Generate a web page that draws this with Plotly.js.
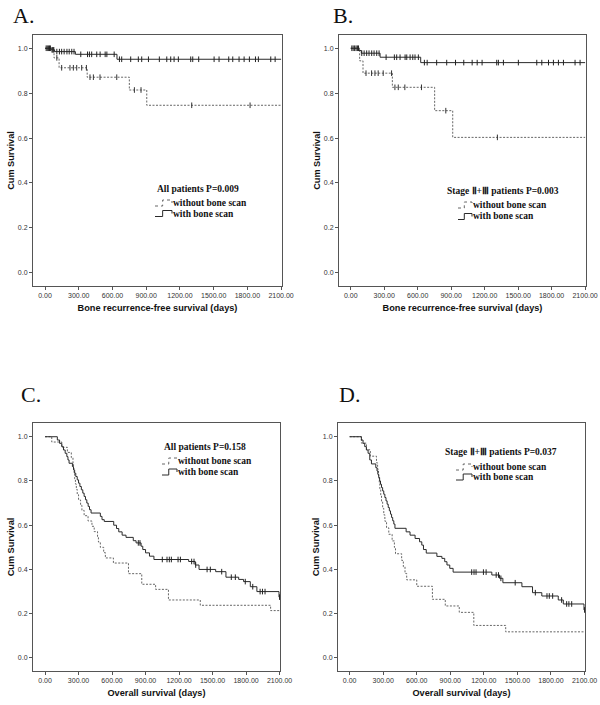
<!DOCTYPE html>
<html>
<head>
<meta charset="utf-8">
<script src="https://cdn.plot.ly/plotly-3.0.1.min.js"></script>
<style>html,body{margin:0;padding:0;background:#fff;}#chart{width:600px;height:705px;}</style>
</head>
<body>
<div id="chart"></div>
<script>
// ---------- axis ticks ----------
const xTickVals = [0, 300, 600, 900, 1200, 1500, 1800, 2100];
const xTickText = ["0.00", "300.00", "600.00", "900.00", "1200.00", "1500.00", "1800.00", "2100.00"];
const yTickVals = [0, 0.2, 0.4, 0.6, 0.8, 1.0];
const yTickText = ["0.0", "0.2", "0.4", "0.6", "0.8", "1.0"];
const groupLabels = ["without bone scan", "with bone scan"];
const panelLetters = ["A.", "B.", "C.", "D."];
const panelTitles = ["All patients P=0.009", "Stage Ⅱ+Ⅲ patients P=0.003", "All patients P=0.158", "Stage Ⅱ+Ⅲ patients P=0.037"];
const xTitles = ["Bone recurrence-free survival (days)", "Bone recurrence-free survival (days)", "Overall survival (days)", "Overall survival (days)"];
const yTitle = "Cum Survival";

// ---------- Panel A: bone recurrence-free, all patients ----------
const aWithT = [0, 55, 85, 270, 640];
const aWithS = [1, 0.993, 0.985, 0.973, 0.951];
const aWithCens = [10, 20, 30, 40, 48, 62, 70, 78, 105, 128, 148, 170, 195, 215, 238, 258, 318, 378, 395, 415, 460, 490, 535, 550, 615, 662, 682, 762, 830, 860, 920, 1017, 1083, 1118, 1148, 1186, 1296, 1314, 1367, 1504, 1548, 1634, 1670, 1726, 1771, 1818, 1872, 1898, 2008, 2047];
const aWithoutT = [0, 80, 125, 375, 750, 905];
const aWithoutS = [1, 0.957, 0.913, 0.871, 0.814, 0.746];
const aWithoutCens = [105, 148, 222, 252, 282, 326, 368, 400, 430, 489, 638, 795, 854, 1305, 1824];

// ---------- Panel B: bone recurrence-free, stage II+III ----------
const bWithT = [0, 75, 95, 263, 627];
const bWithS = [1, 0.99, 0.978, 0.96, 0.936];
const bWithCens = [10, 22, 35, 48, 60, 70, 99, 120, 143, 164, 188, 209, 233, 254, 317, 391, 412, 442, 487, 502, 532, 556, 576, 606, 660, 685, 770, 860, 939, 1013, 1088, 1133, 1177, 1308, 1323, 1368, 1502, 1667, 1712, 1772, 1816, 1861, 1906, 2010, 2055];
const bWithoutT = [0, 80, 110, 373, 752, 914];
const bWithoutS = [1, 0.944, 0.889, 0.826, 0.722, 0.603];
const bWithoutCens = [137, 187, 217, 246, 291, 366, 396, 426, 485, 634, 852, 1314];

// ---------- Panel C: overall survival, all patients ----------
const cWithT = [0, 110, 130, 150, 165, 180, 195, 205, 215, 245, 255, 265, 275, 288, 300, 312, 325, 338, 350, 362, 374, 386, 398, 412, 495, 510, 530, 615, 640, 660, 690, 725, 790, 815, 860, 875, 900, 935, 975, 1286, 1345, 1379, 1528, 1620, 1734, 1778, 1838, 1897, 2095];
const cWithS = [1, 0.985, 0.97, 0.955, 0.94, 0.925, 0.91, 0.895, 0.88, 0.865, 0.85, 0.835, 0.82, 0.805, 0.79, 0.775, 0.76, 0.745, 0.73, 0.715, 0.70, 0.685, 0.67, 0.655, 0.64, 0.625, 0.617, 0.60, 0.585, 0.57, 0.555, 0.545, 0.53, 0.52, 0.505, 0.49, 0.475, 0.46, 0.445, 0.436, 0.42, 0.40, 0.39, 0.365, 0.355, 0.345, 0.322, 0.30, 0.275];
const cWithCens = [835, 850, 1050, 1092, 1113, 1131, 1191, 1212, 1313, 1334, 1349, 1451, 1480, 1582, 1668, 1704, 1793, 1860, 1926, 1947, 1970, 2100];
const cWithoutT = [0, 60, 150, 200, 235, 250, 255, 260, 265, 272, 280, 288, 300, 318, 330, 350, 385, 420, 440, 470, 478, 495, 525, 540, 612, 747, 866, 990, 1105, 1390, 2020];
const cWithoutS = [1, 0.976, 0.952, 0.929, 0.905, 0.881, 0.857, 0.833, 0.81, 0.786, 0.762, 0.738, 0.714, 0.69, 0.667, 0.643, 0.619, 0.595, 0.571, 0.548, 0.524, 0.50, 0.476, 0.452, 0.429, 0.381, 0.333, 0.31, 0.262, 0.238, 0.214];
const cWithoutCens = [];

// ---------- Panel D: overall survival, stage II+III ----------
const dWithT = [0, 105, 120, 135, 150, 165, 180, 195, 234, 245, 252, 260, 268, 276, 285, 295, 305, 315, 325, 335, 345, 355, 365, 375, 385, 395, 405, 505, 540, 585, 625, 645, 660, 685, 780, 825, 850, 870, 895, 925, 1271, 1340, 1370, 1540, 1635, 1718, 1865, 1910, 2095];
const dWithS = [1, 0.985, 0.97, 0.955, 0.94, 0.925, 0.895, 0.877, 0.86, 0.845, 0.83, 0.815, 0.80, 0.785, 0.77, 0.755, 0.74, 0.725, 0.71, 0.695, 0.68, 0.665, 0.65, 0.635, 0.62, 0.605, 0.586, 0.57, 0.555, 0.54, 0.525, 0.51, 0.49, 0.474, 0.459, 0.45, 0.435, 0.42, 0.405, 0.388, 0.375, 0.36, 0.34, 0.322, 0.295, 0.28, 0.262, 0.244, 0.217];
const dWithCens = [1091, 1112, 1130, 1196, 1220, 1310, 1331, 1352, 1480, 1660, 1764, 1785, 1815, 1895, 1940, 1960, 1985, 2100];
const dWithoutT = [0, 105, 150, 185, 240, 250, 258, 265, 270, 278, 285, 295, 305, 315, 330, 350, 380, 400, 410, 465, 480, 495, 510, 600, 740, 855, 980, 1110, 1395];
const dWithoutS = [1, 0.971, 0.941, 0.912, 0.882, 0.853, 0.824, 0.794, 0.765, 0.735, 0.706, 0.676, 0.647, 0.618, 0.588, 0.559, 0.529, 0.50, 0.471, 0.441, 0.412, 0.382, 0.353, 0.324, 0.265, 0.235, 0.206, 0.147, 0.118];
const dWithoutCens = [];

const X_END = 2100;

// ---------- layout geometry (pixels) ----------
const W = 600, H = 705;
const frames = [
  {l: 33, r: 282, t: 35, b: 286, xr: [-107, 2108], yr: [-0.059, 1.059]},
  {l: 339, r: 586, t: 35, b: 286, xr: [-105, 2108], yr: [-0.059, 1.059]},
  {l: 33, r: 280, t: 423, b: 671, xr: [-108, 2104], yr: [-0.059, 1.062]},
  {l: 338, r: 585, t: 423, b: 671, xr: [-104, 2104], yr: [-0.059, 1.062]}
];
const px = x => x / W;
const py = y => 1 - y / H;

const panels = [
  {wT: aWithT, wS: aWithS, wC: aWithCens, oT: aWithoutT, oS: aWithoutS, oC: aWithoutCens},
  {wT: bWithT, wS: bWithS, wC: bWithCens, oT: bWithoutT, oS: bWithoutS, oC: bWithoutCens},
  {wT: cWithT, wS: cWithS, wC: cWithCens, oT: cWithoutT, oS: cWithoutS, oC: cWithoutCens},
  {wT: dWithT, wS: dWithS, wC: dWithCens, oT: dWithoutT, oS: dWithoutS, oC: dWithoutCens}
];

function stepAt(T, S, t) {
  let v = S[0];
  for (let i = 0; i < T.length; i++) { if (T[i] <= t) v = S[i]; }
  return v;
}

const solidColor = '#2a2a2a';
const dashColor = '#666666';
const traces = [];
const layout = {
  width: W, height: H,
  margin: {l: 0, r: 0, t: 0, b: 0},
  paper_bgcolor: '#fff', plot_bgcolor: '#fff',
  showlegend: false,
  annotations: [], shapes: []
};

const sansTick = {family: 'Liberation Sans, Arial, sans-serif', size: 7, color: '#333'};
const sansTitle = {family: 'Liberation Sans, Arial, sans-serif', size: 9.2, color: '#111', weight: 'bold'};
const serifLeg = {family: 'Liberation Serif, Times New Roman, serif', size: 9.5, color: '#111', weight: 'bold'};

const legendPos = [
  {tx: 198, ty: 189, y1: 203, y2: 213.5, sx0: 155, sx1: 172},
  {tx: 503, ty: 191, y1: 205, y2: 216.5, sx0: 458, sx1: 472},
  {tx: 205, ty: 447, y1: 461, y2: 472, sx0: 162, sx1: 177},
  {tx: 501, ty: 452, y1: 467, y2: 477, sx0: 456, sx1: 472}
];
const letterPos = [
  {x: 11, y: 15}, {x: 331, y: 15}, {x: 19, y: 394}, {x: 337, y: 394}
];

panels.forEach((p, i) => {
  const n = i + 1;
  const xa = 'x' + (n === 1 ? '' : n), ya = 'y' + (n === 1 ? '' : n);
  const f = frames[i];
  const axX = {
    domain: [px(f.l), px(f.r)], anchor: ya, range: f.xr,
    tickvals: xTickVals, ticktext: xTickText,
    ticks: 'outside', ticklen: 3, tickcolor: '#555', tickwidth: 1,
    showline: true, mirror: true, linecolor: '#555', linewidth: 1,
    showgrid: false, zeroline: false, tickfont: sansTick,
    title: {text: xTitles[i], font: sansTitle, standoff: 6}
  };
  const axY = {
    domain: [py(f.b), py(f.t)], anchor: xa, range: f.yr,
    tickvals: yTickVals, ticktext: yTickText,
    ticks: 'outside', ticklen: 3, tickcolor: '#555', tickwidth: 1,
    showline: true, mirror: true, linecolor: '#555', linewidth: 1,
    showgrid: false, zeroline: false, tickfont: sansTick,
    title: {text: yTitle, font: sansTitle, standoff: 1}
  };
  layout['xaxis' + (n === 1 ? '' : n)] = axX;
  layout['yaxis' + (n === 1 ? '' : n)] = axY;

  traces.push({
    x: p.oT.concat([X_END]), y: p.oS.concat([p.oS[p.oS.length - 1]]),
    xaxis: xa, yaxis: ya, mode: 'lines', name: groupLabels[0],
    line: {shape: 'hv', color: dashColor, width: 1, dash: '2px,1.5px'}, hoverinfo: 'skip'
  });
  if (p.oC.length) {
    traces.push({
      x: p.oC, y: p.oC.map(t => stepAt(p.oT, p.oS, t)),
      xaxis: xa, yaxis: ya, mode: 'markers', name: groupLabels[0] + ' censored',
      marker: {symbol: 'line-ns', size: 4, line: {width: 1, color: '#333'}}, hoverinfo: 'skip'
    });
  }
  traces.push({
    x: p.wT.concat([X_END]), y: p.wS.concat([p.wS[p.wS.length - 1]]),
    xaxis: xa, yaxis: ya, mode: 'lines', name: groupLabels[1],
    line: {shape: 'hv', color: solidColor, width: 1}, hoverinfo: 'skip'
  });
  if (p.wC.length) {
    traces.push({
      x: p.wC, y: p.wC.map(t => stepAt(p.wT, p.wS, t)),
      xaxis: xa, yaxis: ya, mode: 'markers', name: groupLabels[1] + ' censored',
      marker: {symbol: 'line-ns', size: 4, line: {width: 1, color: '#222'}}, hoverinfo: 'skip'
    });
  }

  const lp = letterPos[i];
  layout.annotations.push({
    xref: 'paper', yref: 'paper', x: px(lp.x), y: py(lp.y), xanchor: 'left', yanchor: 'middle',
    text: panelLetters[i], showarrow: false,
    font: {family: 'Liberation Serif, Times New Roman, serif', size: 22, color: '#111'}
  });

  const L = legendPos[i];
  layout.annotations.push({
    xref: 'paper', yref: 'paper', x: px(L.tx), y: py(L.ty), xanchor: 'center', yanchor: 'middle',
    text: panelTitles[i], showarrow: false, font: serifLeg
  });
  [L.y1, L.y2].forEach((yy, k) => {
    layout.annotations.push({
      xref: 'paper', yref: 'paper', x: px(L.sx1 - 1), y: py(yy), xanchor: 'left', yanchor: 'middle',
      text: groupLabels[k], showarrow: false, font: serifLeg
    });
    const mid = L.sx0 + (L.sx1 - L.sx0) * 0.45;
    const path = 'M' + px(L.sx0) + ',' + py(yy + 3) + ' H' + px(mid) + ' V' + py(yy - 3) +
                 ' H' + px(L.sx1) + ' V' + py(yy);
    layout.shapes.push({
      type: 'path', xref: 'paper', yref: 'paper', path: path,
      line: {color: k === 0 ? dashColor : solidColor, width: 1, dash: k === 0 ? 'dot' : 'solid'}
    });
  });
});

Plotly.newPlot('chart', traces, layout, {staticPlot: true, displayModeBar: false});
</script>
</body>
</html>
